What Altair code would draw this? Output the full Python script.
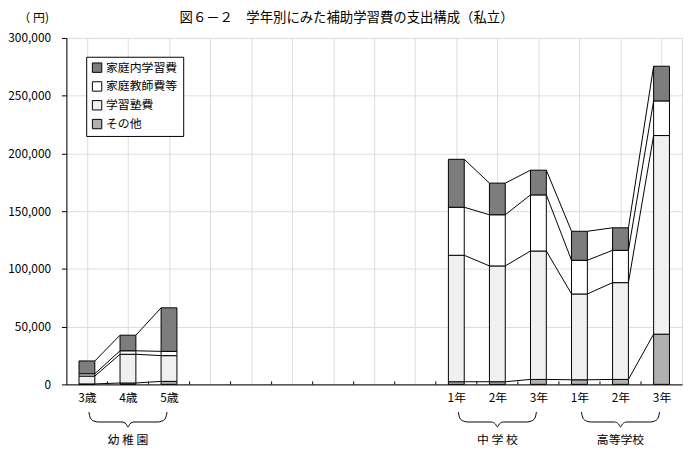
import altair as alt
import pandas as pd

# ---- data -------------------------------------------------------------
slots = ["3歳", "4歳", "5歳", "小1", "小2", "小3", "小4", "小5", "小6",
         "中1", "中2", "中3", "高1", "高2", "高3"]
slot_labels = ["3歳", "4歳", "5歳", "", "", "", "", "", "",
               "1年", "2年", "3年", "1年", "2年", "3年"]
bar_slots = ["3歳", "4歳", "5歳", "中1", "中2", "中3", "高1", "高2", "高3"]

legend_order = ["家庭内学習費", "家庭教師費等", "学習塾費", "その他"]
stack_order = ["その他", "学習塾費", "家庭教師費等", "家庭内学習費"]  # bottom -> top

sonota = [400, 1200, 2600, 2300, 2300, 4300, 4000, 4300, 43500]
juku = [6800, 24900, 22300, 109500, 100300, 111200, 74300, 83800, 172000]
kyoshi = [2000, 3000, 3700, 41600, 44300, 48600, 29200, 28000, 30000]
katei = [11100, 13500, 37700, 41500, 27400, 21400, 25100, 19500, 30000]

series_values = {"その他": sonota, "学習塾費": juku,
                 "家庭教師費等": kyoshi, "家庭内学習費": katei}
fill_colors = ["#7d7d7d", "#ffffff", "#f0f0f0", "#b0b0b0"]  # legend order

groups = ["幼 稚 園", "中 学 校", "高等学校"]
group_first = ["3歳", "中1", "高1"]
group_last = ["5歳", "中3", "高3"]

title_text = "図６－２　学年別にみた補助学習費の支出構成（私立）"
unit_text = "（ 円)"
y_ticks = [0, 50000, 100000, 150000, 200000, 250000, 300000]

FONT = "Noto Sans CJK JP"
SLOT_PX = 622 / len(slots)
HALF = 8 / SLOT_PX  # half bar width in slot units

# ---- derived tables ----------------------------------------------------
rows = []
levels = {}
for i, cat in enumerate(bar_slots):
    pos = slots.index(cat) + 0.5
    cum = 0
    lv = []
    for s in stack_order:
        v = series_values[s][i]
        rows.append({"cat": cat, "series": s, "x0": pos - HALF, "x1": pos + HALF,
                     "y0": cum, "y1": cum + v})
        cum += v
        lv.append(cum)
    levels[cat] = (pos, lv)
bars = pd.DataFrame(rows)

seg_rows = []
sid = 0
for a, b in zip(bar_slots[:-1], bar_slots[1:]):
    pa, la = levels[a]
    pb, lb = levels[b]
    if slots.index(b) - slots.index(a) != 1:
        continue
    for k in range(len(stack_order)):
        seg_rows.append({"seg": sid, "k": 0, "x": pa + HALF, "y": la[k]})
        seg_rows.append({"seg": sid, "k": 1, "x": pb - HALF, "y": lb[k]})
        sid += 1
segs = pd.DataFrame(seg_rows)

brace_rows = []
glabel_rows = []
for g, f, l in zip(groups, group_first, group_last):
    x0 = slots.index(f) + 0.5 + 2 / SLOT_PX
    x1 = slots.index(l) + 0.5 - 2 / SLOT_PX
    mid = (x0 + x1) / 2
    u = 1 / SLOT_PX
    pts = [(x0, 378), (x0 + 1.5 * u, 384), (x0 + 5 * u, 387), (x0 + 10 * u, 388),
           (mid - 6 * u, 388), (mid - 2 * u, 390), (mid, 393),
           (mid + 2 * u, 390), (mid + 6 * u, 388), (x1 - 10 * u, 388),
           (x1 - 5 * u, 387), (x1 - 1.5 * u, 384), (x1, 378)]
    for k, (px, py) in enumerate(pts):
        brace_rows.append({"g": g, "k": k, "x": px, "py": py})
    glabel_rows.append({"g": g, "x": mid, "py": 406})
braces = pd.DataFrame(brace_rows)
glabels = pd.DataFrame(glabel_rows)

ticks = pd.DataFrame({"b": list(range(1, len(slots)))})

# ---- chart -------------------------------------------------------------
xscale = alt.Scale(domain=[0, len(slots)], nice=False, zero=False)
yscale = alt.Scale(domain=[0, 300000], nice=False)

label_js = "[" + ",".join("'" + s + "'" for s in slot_labels) + "]"

bar_layer = alt.Chart(bars).mark_bar(stroke="black", strokeWidth=1).encode(
    x=alt.X("x0:Q", scale=xscale,
            axis=alt.Axis(values=[i + 0.5 for i in range(len(slots))],
                          labelExpr=label_js + "[floor(datum.value)]",
                          ticks=False, tickSize=0, labelPadding=8, title=None,
                          labelAngle=0, labelFont=FONT, labelFontSize=12,
                          labelColor="black", domainColor="black")),
    x2="x1:Q",
    y=alt.Y("y0:Q", scale=yscale,
            axis=alt.Axis(values=y_ticks, format=",d", title=None, tickSize=5,
                          labelPadding=11, labelFont=FONT, labelFontSize=12,
                          labelColor="black", tickColor="black",
                          domainColor="black")),
    y2="y1:Q",
    fill=alt.Fill("series:N",
                  scale=alt.Scale(domain=legend_order, range=fill_colors),
                  legend=alt.Legend(orient="none", legendX=20, legendY=19,
                                    title=None, symbolType="square",
                                    symbolSize=90, symbolStrokeColor="black",
                                    symbolStrokeWidth=1,
                                    strokeColor="black", fillColor="white",
                                    padding=5, rowPadding=5, labelOffset=3,
                                    labelFont=FONT, labelFontSize=12,
                                    labelColor="black")),
)

line_layer = alt.Chart(segs).mark_line(color="black", strokeWidth=1).encode(
    x=alt.X("x:Q", scale=xscale),
    y=alt.Y("y:Q", scale=yscale),
    detail="seg:N",
    order="k:Q",
)

tick_layer = alt.Chart(ticks).mark_rule(color="black", strokeWidth=1).encode(
    x=alt.X("b:Q", scale=xscale),
    y=alt.value(350),
    y2=alt.value(347),
)

brace_layer = alt.Chart(braces).mark_line(
    color="black", strokeWidth=1, interpolate="monotone", clip=False
).encode(
    x=alt.X("x:Q", scale=xscale),
    y=alt.Y("py:Q", scale=None),
    detail="g:N",
    order="k:Q",
)

glabel_layer = alt.Chart(glabels).mark_text(
    font=FONT, fontSize=12, color="black", baseline="middle", align="center"
).encode(
    x=alt.X("x:Q", scale=xscale),
    y=alt.Y("py:Q", scale=None),
    text="g:N",
)

title_layer = alt.Chart(pd.DataFrame({"t": [title_text]})).mark_text(
    font=FONT, fontSize=13.5, color="black", baseline="middle", align="center"
).encode(text="t:N", x=alt.value(283), y=alt.value(-20))

unit_layer = alt.Chart(pd.DataFrame({"t": [unit_text]})).mark_text(
    font=FONT, fontSize=12, color="black", baseline="middle", align="center"
).encode(text="t:N", x=alt.value(-33), y=alt.value(-20))

chart = alt.layer(
    bar_layer, line_layer, tick_layer, brace_layer, glabel_layer,
    title_layer, unit_layer
).properties(
    width=622, height=350,
    padding={"left": 59, "top": 28, "right": 6, "bottom": 62},
    autosize=alt.AutoSizeParams(type="none"),
).configure_view(
    stroke="black", strokeWidth=1
).configure_axis(
    grid=False, domainColor="black", tickColor="black", labelColor="black",
    labelFont=FONT, labelFontSize=12, domainWidth=1,
).configure(background="white")

chart.save("out.html", embed_options={"renderer": "svg", "actions": False})
